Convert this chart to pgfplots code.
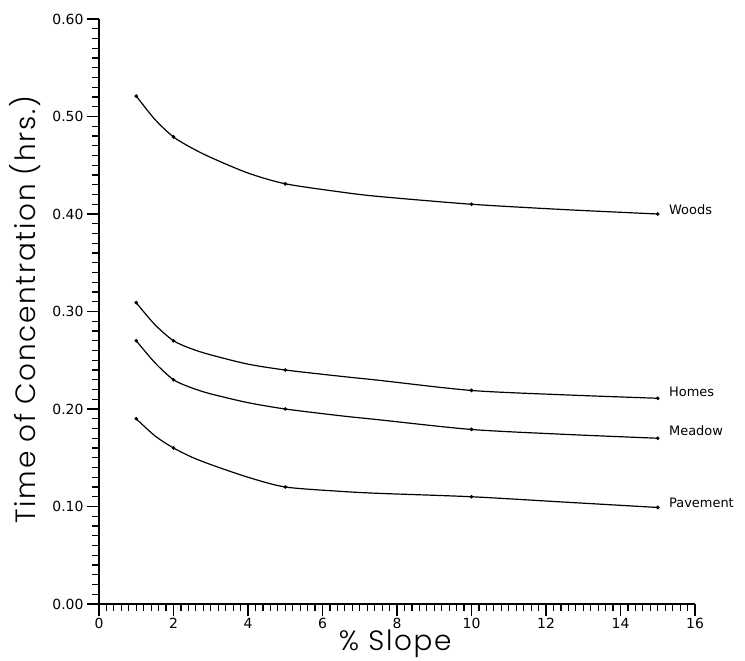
\documentclass[border=0pt]{standalone}
\usepackage{fontspec}
\usepackage{pgfplots}
\pgfplotsset{compat=1.18}
\setmainfont{DejaVu Sans}
\newfontfamily\labfont{Poppins}[UprightFont={* Light}, LetterSpace=6]
\newfontfamily\tickfont{DejaVu Sans}

% measured points (marked)
\pgfplotstableread{
x y
1 0.521
2 0.479
5 0.431
10 0.410
15 0.400
}\woods
\pgfplotstableread{
x y
1 0.309
2 0.270
5 0.240
10 0.219
15 0.211
}\homes
\pgfplotstableread{
x y
1 0.270
2 0.230
5 0.200
10 0.179
15 0.170
}\meadow
\pgfplotstableread{
x y
1 0.190
2 0.160
5 0.120
10 0.110
15 0.099
}\pavement

% curves as drawn in the figure
\pgfplotstableread{
x y
1 0.521
1.5 0.497
2 0.479
2.5 0.4675
3 0.458
4 0.442
5 0.431
6.5 0.4225
7.5 0.418
10 0.410
12.5 0.4045
15 0.400
}\woodsc
\pgfplotstableread{
x y
1 0.309
1.5 0.2865
2 0.270
2.5 0.2615
3 0.2555
4 0.246
5 0.240
6.5 0.2335
7.5 0.2295
10 0.219
12.5 0.2145
15 0.211
}\homesc
\pgfplotstableread{
x y
1 0.270
1.5 0.2475
2 0.230
2.5 0.2215
3 0.2155
4 0.2065
5 0.200
6.5 0.193
7.5 0.189
10 0.179
12.5 0.174
15 0.170
}\meadowc
\pgfplotstableread{
x y
1 0.190
1.5 0.1725
2 0.160
2.5 0.1505
3 0.143
4 0.130
5 0.120
6.5 0.1155
7.5 0.1135
10 0.110
12.5 0.1045
15 0.099
}\pavementc

\begin{document}
\begin{tikzpicture}
\useasboundingbox (-99bp,-57bp) rectangle (646bp,604bp);
\begin{axis}[
  scale only axis, width=596bp, height=585bp,
  xmin=0, xmax=16, ymin=0, ymax=0.6,
  axis lines=left,
  axis line style={-, line width=1.8bp},
  xtick={0,2,4,6,8,10,12,14,16},
  ytick={0,0.1,0.2,0.3,0.4,0.5,0.6},
  minor x tick num=9, minor y tick num=9,
  tick align=outside,
  major tick length=12bp, minor tick length=7bp,
  every tick/.style={black, line width=1.2bp},
  /pgf/number format/assume math mode=true,
  yticklabel style={/pgf/number format/.cd, fixed, fixed zerofill, precision=2},
  ticklabel style={font=\tickfont\fontsize{14}{15}\selectfont},
  xticklabel style={yshift=1bp},
  xlabel={\% Slope},
  ylabel={Time of Concentration (hrs.)},
  every axis x label/.style={at={(axis description cs:0.497,0)}, anchor=center, yshift=-40bp, font=\labfont\fontsize{28}{29}\selectfont},
  every axis y label/.style={at={(axis description cs:-0.124,0.503)}, anchor=center, rotate=90, font=\labfont\fontsize{28}{29}\selectfont},
  clip=false,
]
\addplot[smooth, tension=0.45, black, line width=1.2bp, no marks] table {\woodsc};
\addplot[smooth, tension=0.45, black, line width=1.2bp, no marks] table {\homesc};
\addplot[smooth, tension=0.45, black, line width=1.2bp, no marks] table {\meadowc};
\addplot[smooth, tension=0.45, black, line width=1.2bp, no marks] table {\pavementc};
\addplot[only marks, black, mark=*, mark size=1.7bp] table {\woods};
\addplot[only marks, black, mark=*, mark size=1.7bp] table {\homes};
\addplot[only marks, black, mark=*, mark size=1.7bp] table {\meadow};
\addplot[only marks, black, mark=*, mark size=1.7bp] table {\pavement};
\node[anchor=west, font=\tickfont\fontsize{13}{14}\selectfont, inner sep=0pt] at (axis cs:15.3,0.404) {Woods};
\node[anchor=west, font=\tickfont\fontsize{13}{14}\selectfont, inner sep=0pt] at (axis cs:15.3,0.218) {Homes};
\node[anchor=west, font=\tickfont\fontsize{13}{14}\selectfont, inner sep=0pt] at (axis cs:15.3,0.178) {Meadow};
\node[anchor=west, font=\tickfont\fontsize{13}{14}\selectfont, inner sep=0pt] at (axis cs:15.3,0.104) {Pavement};
\end{axis}
\end{tikzpicture}
\end{document}
